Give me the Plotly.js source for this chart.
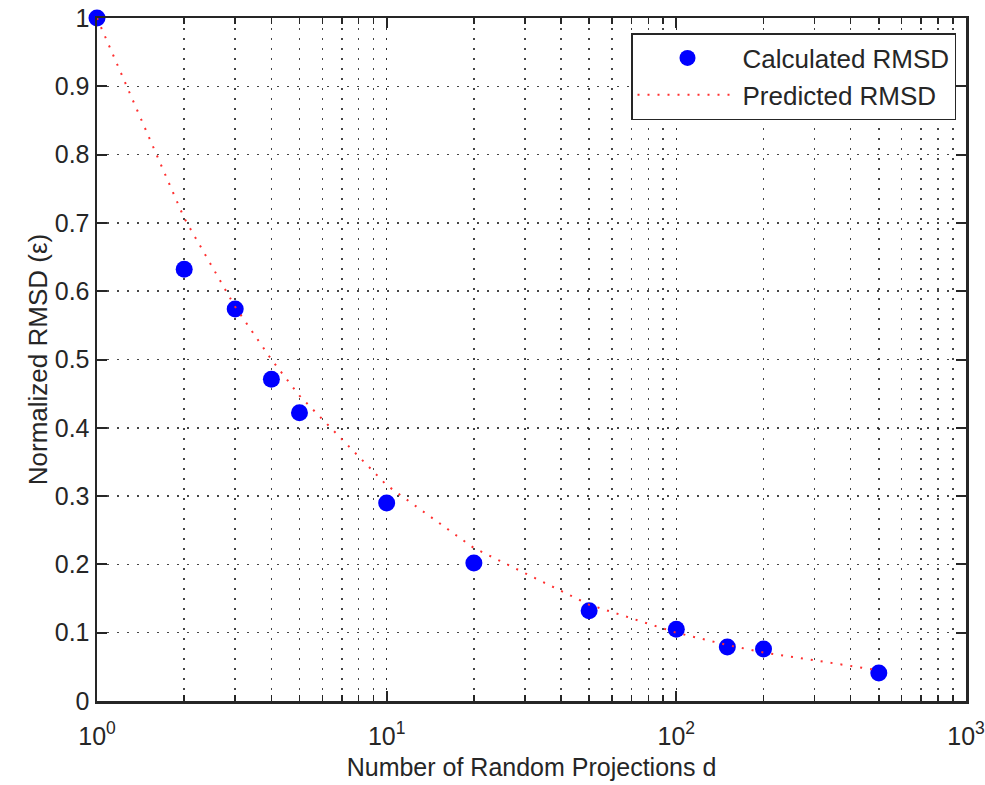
<!DOCTYPE html>
<html>
<head>
<meta charset="utf-8">
<script src="https://cdn.plot.ly/plotly-3.0.1.min.js"></script>
<style>html,body{margin:0;padding:0;background:#fff;}#chart{width:985px;height:785px;}</style>
</head>
<body>
<div id="chart"></div>
<script>
// Number of random projections d
const projections = [1, 2, 3, 4, 5, 10, 20, 50, 100, 150, 200, 500];
// Calculated normalized RMSD
const calculatedRMSD = [1.0, 0.632, 0.574, 0.471, 0.422, 0.290, 0.202, 0.132, 0.105, 0.079, 0.076, 0.041];
// Predicted normalized RMSD
const predictedRMSD = [1.0, 0.707, 0.577, 0.500, 0.447, 0.316, 0.224, 0.141, 0.100, 0.082, 0.071, 0.045];
const xTickVals = [1, 10, 100, 1000];
const xTickText = ['10<sup>0</sup>', '10<sup>1</sup>', '10<sup>2</sup>', '10<sup>3</sup>'];

const axisColor = '#262626';
const gridColor = 'rgba(38,38,38,0.85)';
const gridDash = '2px,8px';
const fontFam = 'Liberation Sans, Arial, sans-serif';

const traces = [
  {
    x: projections, y: calculatedRMSD, type: 'scatter', mode: 'markers',
    name: 'Calculated RMSD',
    marker: {color: '#0000ff', size: 17, line: {width: 0}},
    cliponaxis: false
  },
  {
    x: projections, y: predictedRMSD, type: 'scatter', mode: 'lines',
    name: 'Predicted RMSD',
    line: {color: '#ff3030', width: 2, dash: '2px,8px'},
    cliponaxis: false
  }
];

const layout = {
  width: 985, height: 785,
  margin: {l: 97, r: 19, t: 18, b: 84},
  paper_bgcolor: '#ffffff', plot_bgcolor: '#ffffff',
  font: {family: fontFam, size: 24, color: axisColor},
  showlegend: true,
  legend: {
    x: 0.9885, xanchor: 'right', y: 0.978, yanchor: 'top',
    bgcolor: '#ffffff', bordercolor: axisColor, borderwidth: 1.5,
    font: {family: fontFam, size: 26, color: axisColor},
    itemwidth: 100, tracegroupgap: 0
  },
  xaxis: {
    type: 'log', range: [0, 3],
    tickvals: xTickVals, ticktext: xTickText,
    ticks: 'inside', ticklen: 10, tickwidth: 2, tickcolor: axisColor,
    showline: true, linecolor: axisColor, linewidth: 2.5, mirror: 'allticks',
    showgrid: true, gridcolor: gridColor, gridwidth: 1.5, griddash: gridDash,
    zeroline: false, ticklabelstandoff: 11,
    tickfont: {family: fontFam, size: 25, color: axisColor},
    title: {text: 'Number of Random Projections d', font: {family: fontFam, size: 25, color: axisColor}, standoff: 10},
    minor: {dtick: 'D1', ticks: 'inside', ticklen: 6, tickwidth: 1.5, tickcolor: axisColor,
            showgrid: true, gridcolor: gridColor, gridwidth: 1.5, griddash: gridDash}
  },
  yaxis: {
    range: [0, 1], dtick: 0.1, tick0: 0,
    ticks: 'inside', ticklen: 10, tickwidth: 2, tickcolor: axisColor,
    showline: true, linecolor: axisColor, linewidth: 2.5, mirror: 'allticks',
    showgrid: true, gridcolor: gridColor, gridwidth: 1.5, griddash: gridDash,
    zeroline: false,
    tickfont: {family: fontFam, size: 25, color: axisColor},
    title: {text: 'Normalized RMSD (ε)', font: {family: fontFam, size: 26, color: axisColor}, standoff: 0}
  }
};

Plotly.newPlot('chart', traces, layout, {displayModeBar: false, staticPlot: true});
</script>
</body>
</html>
